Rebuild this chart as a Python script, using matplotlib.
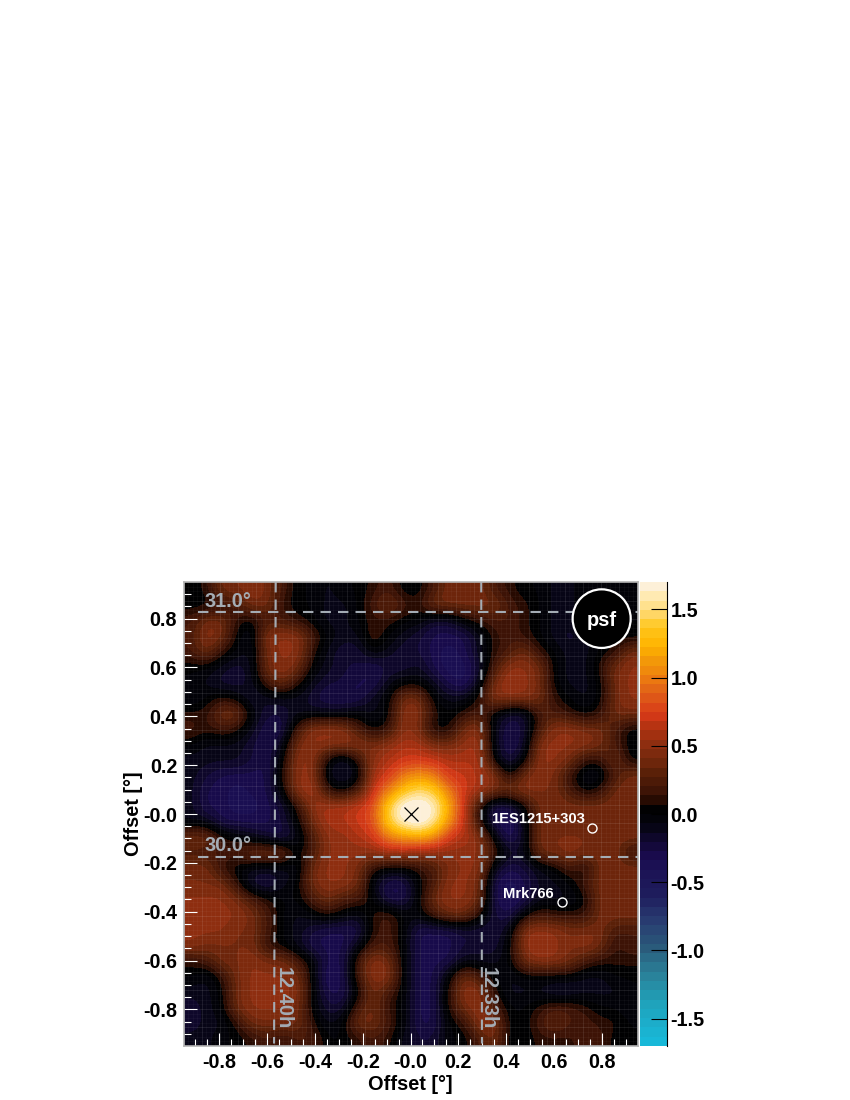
import numpy as np
import matplotlib
matplotlib.use('Agg')
import matplotlib.pyplot as plt
from matplotlib.colors import LinearSegmentedColormap, BoundaryNorm
from matplotlib.patches import Ellipse

plt.rcParams['font.family'] = ['Liberation Sans', 'DejaVu Sans']

# map values, in tenths, top row first
map_tenths = [
 [ 0, 1, 4, 4, 5, 4, 2, 0, 0,-1, 0, 0, 1, 2, 0, 0, 2, 4, 4, 4, 2, 1, 0, 0,-1,-1, 0, 0, 0, 0],
 [ 0, 0, 1, 2, 4, 4, 1, 0, 0,-1,-1, 0, 2, 4, 2, 1, 4, 4, 4, 4, 4, 2, 1, 0,-1,-1, 0, 0, 0, 0],
 [ 2, 4, 4, 1, 0, 2, 2, 1, 0,-1,-1, 0, 1, 1, 0, 0,-2,-2, 0, 1, 2, 2, 1, 0,-1,-1, 0, 0, 0, 0],
 [ 2, 5, 4, 0,-1, 5, 5, 5, 2, 0,-1,-1, 2, 0,-1,-2,-3,-3,-3,-1, 1, 2, 1, 0,-1,-2,-1, 0, 0, 0],
 [ 2, 4, 1, 0,-1, 4, 5, 5, 1,-1,-2,-2, 0,-1,-2,-2,-3,-4,-3,-1, 1, 2, 4, 1, 0,-1,-1, 0, 1, 4],
 [ 0, 0,-1,-2,-1, 4, 5, 4, 0,-1,-2,-2,-3,-2,-2,-1,-3,-4,-4,-2, 2, 5, 5, 4, 0,-1,-1, 1, 4, 5],
 [ 0,-1,-2,-2,-1, 2, 4, 1,-1,-2,-2,-3,-3,-1, 0, 0,-1,-3,-4,-1, 4, 6, 5, 4, 0,-1,-1, 0, 4, 5],
 [-1, 0, 1, 0,-2,-1,-1,-1,-2,-3,-3,-3,-1, 0, 4, 4, 0,-1,-1, 1, 5, 5, 5, 4, 1, 0,-1, 0, 4, 5],
 [ 1, 1, 4, 4, 0,-2,-2,-1,-1,-1,-1, 0,-1, 0, 5, 5, 1, 0, 1, 2, 0,-2,-2, 2, 2, 1, 0, 1, 4, 4],
 [ 2, 1, 2, 1,-1,-3,-3, 2, 5, 5, 5, 2, 0, 1, 5, 4, 0, 0, 4, 5,-1,-3,-2, 2, 5, 5, 4, 4, 2, 0],
 [ 0,-1,-1,-1,-2,-3,-1, 4, 5, 5, 5, 5, 4, 5, 6, 6, 4, 4, 5, 6,-1,-3,-2, 5, 5, 5, 5, 4, 2, 0],
 [-1,-1,-1,-1,-2,-3, 0, 5, 5, 0,-2, 1, 5, 6, 7, 7, 7, 6, 6, 6, 0,-3, 0, 5, 5, 4, 1, 1, 4, 0],
 [-1,-2,-3,-3,-3,-3, 1, 5, 5,-1,-2,-1, 6, 7,10,11,10, 7, 7, 6, 5, 0, 4, 5, 4, 1,-1,-1, 2, 4],
 [-1,-3,-3,-4,-3,-3, 0, 5, 6, 1, 0, 2, 7,10,13,15,14,10, 7, 6, 4, 4, 5, 4, 4, 2, 0, 1, 4, 4],
 [-1,-3,-3,-4,-4,-3,-2, 1, 5, 6, 6, 7, 8,14,18,18,17,12, 7, 1,-3,-3, 0, 4, 4, 4, 4, 4, 4, 4],
 [-1,-1,-3,-3,-3,-3,-2, 0, 4, 6, 6, 7, 8,14,17,18,16,11, 7, 1,-3,-4,-1, 4, 4, 4, 4, 4, 4, 4],
 [ 4, 4, 1, 0,-1,-2,-3,-1, 2, 5, 5, 6, 7,10,11,12,11, 7, 6, 5, 0,-4,-1, 4, 4, 4, 4, 4, 4, 4],
 [ 2, 2, 2, 2, 4, 4, 4, 0, 2, 5, 5, 5, 5, 6, 6, 5, 5, 5, 5, 5, 2,-1,-1, 4, 4, 5, 4, 4, 4, 1],
 [ 4, 4, 1, 0,-1,-1,-1,-1, 4, 5, 5, 4, 1, 0, 0, 1, 2, 4, 5, 5,-1,-3,-2,-1, 0, 2, 0, 4, 4, 4],
 [ 4, 4, 4, 1,-2,-3,-1, 0, 4, 5, 5, 4,-1,-3,-3, 0, 2, 5, 5, 4,-3,-4,-3,-1,-1, 0, 2, 4, 4, 4],
 [ 5, 5, 5, 4, 2, 1, 0, 0, 2, 4, 2, 2, 0,-3,-3, 0, 4, 5, 5, 4,-3,-4,-3,-1,-1,-1, 0, 4, 4, 4],
 [ 5, 5, 5, 5, 4, 2, 0,-1, 0, 1, 0,-1, 1, 2, 0, 0, 2, 4, 4, 1,-2,-3, 0, 2, 1, 1, 1, 4, 4, 4],
 [ 5, 5, 5, 4, 4, 2, 0,-1,-2,-3,-3,-3, 1, 2, 0,-3,-3,-3,-2,-2,-2,-1, 5, 5, 5, 4, 4, 4, 2, 2],
 [ 5, 4, 4, 4, 4, 1, 0,-1,-3,-3,-3,-1, 2, 2, 0,-3,-3,-3,-2,-2,-2, 0, 5, 6, 5, 4, 5, 4, 1, 2],
 [ 1, 2, 4, 4, 5, 4, 4, 2, 0,-3,-3, 2, 5, 4, 0,-3,-3,-3,-1,-1,-1, 0, 4, 5, 5, 4, 2, 1, 1, 1],
 [ 0,-1, 1, 4, 5, 5, 5, 4, 0,-4,-3, 2, 5, 5, 0,-3,-3, 0, 4, 2, 0,-1, 0, 0, 0, 0,-1,-1, 0, 0],
 [-1,-1, 0, 4, 5, 5, 5, 5, 0,-3,-3, 0, 4, 2, 0,-3,-3, 1, 5, 5, 1,-1,-1,-1,-2,-2,-1,-1,-1, 0],
 [-2,-1, 0, 4, 5, 5, 5, 4, 0,-2,-2, 2, 4, 1, 0,-3,-3, 1, 4, 5, 2, 0, 0, 1, 2, 2, 1, 0, 0,-1],
 [-2,-1,-1, 1, 4, 4, 4, 4, 1,-1, 0, 4, 4, 2, 0,-3,-3, 0, 1, 5, 5, 0, 0, 2, 4, 2, 2, 1, 1, 0],
 [-1,-1, 0, 0, 1, 2, 1, 2, 2, 0, 0, 1, 2, 1,-1,-2,-2, 0, 0, 2, 4, 0, 0, 1, 1, 1, 2, 2, 0, 0],
]

ticks_main = [-0.8, -0.6, -0.4, -0.2, 0.0, 0.2, 0.4, 0.6, 0.8]
ticks_main_labels = ['-0.8', '-0.6', '-0.4', '-0.2', '-0.0', '0.2', '0.4', '0.6', '0.8']
ticks_bar = [-1.5, -1.0, -0.5, 0.0, 0.5, 1.0, 1.5]
ticks_bar_labels = ['-1.5', '-1.0', '-0.5', '0.0', '0.5', '1.0', '1.5']

# colour bar colours, value then colour
bar_values = [-1.7, -1.4, -1.2, -1.0, -0.8, -0.6, -0.33, -0.2, -0.08, 0.05, 0.08, 0.15, 0.3, 0.5, 0.6, 0.75, 0.9, 1.0, 1.15, 1.25, 1.4, 1.5, 1.6, 1.7]
bar_colors = ['#18b8d8', '#20a0b8', '#2a8098', '#2a5a7a', '#283a70', '#1e1c5c', '#1a0c50', '#100830', '#04040c',
              '#000000', '#200800', '#3a1206', '#5a2008', '#8a2e10', '#a83010', '#d83a18', '#e06018', '#ec7a10',
              '#f49a08', '#ffb400', '#ffc820', '#ffd870', '#ffe8a8', '#fdf0d8']

lim = 0.95
line_gray = '#a4acb4'

# coordinate lines
ra_1240_x = [-0.564, -0.571]
ra_1233_x = [0.296, 0.299]
ra_y = [0.95, -0.94]
dec_x = [-0.89, 0.95]
dec_31_y = [0.826, 0.826]
dec_30_y = [-0.175, -0.175]

src_x = [0.758, 0.632]
src_y = [-0.057, -0.361]

grid = np.array(map_tenths) / 10.0
levels = np.linspace(-1.7, 1.7, 51)
pos = [(v + 1.7) / 3.4 for v in bar_values]
cmap = LinearSegmentedColormap.from_list('excess', list(zip(pos, bar_colors)), N=256)
norm = BoundaryNorm(levels, cmap.N)

W, H = 850.0, 1100.0
fig = plt.figure(figsize=(8.5, 11), dpi=100)
ax = fig.add_axes([183.5 / W, 1 - 1046 / H, 454 / W, 464 / H])

ax.imshow(grid, extent=[-lim, lim, -lim, lim], origin='upper', aspect='auto', cmap=cmap, norm=norm,
          interpolation='bicubic', interpolation_stage='data')

# the faint bin lines over the map
edges = np.linspace(-lim, lim, 101)
ax.vlines(edges, -lim, lim, color='white', lw=0.4, alpha=0.06)
ax.hlines(edges, -lim, lim, color='white', lw=0.4, alpha=0.06)
ax.vlines(edges[::4], -lim, lim, color='white', lw=0.5, alpha=0.09)
ax.hlines(edges[::4], -lim, lim, color='white', lw=0.5, alpha=0.09)

for xs, ys in [(ra_1240_x, ra_y), (ra_1233_x, ra_y), (dec_x, dec_31_y), (dec_x, dec_30_y)]:
    ax.plot(xs, ys, color=line_gray, lw=1.5, dashes=(5, 3.4))

ax.plot([0], [0], marker='x', color='black', ms=10, mew=0.9, ls='none')
ax.plot(src_x, src_y, marker='o', mfc='none', mec='white', ms=6.5, mew=1.0, ls='none')

ax.add_patch(Ellipse((0.80, 0.80), 0.243, 0.24, fc='black', ec='white', lw=1.6, zorder=5))
ax.text(0.80, 0.793, 'psf', color='white', fontsize=14.4, fontweight='bold', ha='center', va='center', zorder=6)

ax.text(-0.862, 0.87, '31.0°', color=line_gray, fontsize=14.4, fontweight='bold', ha='left', va='center')
ax.text(-0.862, -0.131, '30.0°', color=line_gray, fontsize=14.4, fontweight='bold', ha='left', va='center')
ax.text(-0.532, -0.625, '12.40h', color=line_gray, fontsize=14.4, fontweight='bold', rotation=-90, ha='center', va='top')
ax.text(0.326, -0.625, '12.33h', color=line_gray, fontsize=14.4, fontweight='bold', rotation=-90, ha='center', va='top')
ax.text(0.73, -0.02, '1ES1215+303', color='white', fontsize=10.6, fontweight='bold', ha='right', va='center')
ax.text(0.599, -0.328, 'Mrk766', color='white', fontsize=10.6, fontweight='bold', ha='right', va='center')

ax.set_xlim(-lim, lim)
ax.set_ylim(-lim, lim)
ax.set_xticks(ticks_main)
ax.set_xticklabels(ticks_main_labels, fontsize=14.2, fontweight='bold')
ax.set_yticks(ticks_main)
ax.set_yticklabels(ticks_main_labels, fontsize=14.2, fontweight='bold')
ax.set_xticks(np.arange(-0.9, 0.91, 0.05), minor=True)
ax.set_yticks(np.arange(-0.9, 0.91, 0.05), minor=True)
ax.tick_params(which='major', direction='in', length=9.5, width=0.8, color='white', pad=5)
ax.tick_params(which='minor', direction='in', length=5, width=0.8, color='white')
ax.tick_params(axis='y', which='major', pad=4.5)
for side in ax.spines:
    ax.spines[side].set_color('#b4b4b4')
    ax.spines[side].set_linewidth(1.2)

fig.text(410 / W, 1 - 1084 / H, 'Offset [°]', fontsize=14.4, fontweight='bold', ha='center', va='center')
fig.text(133.5 / W, 1 - 814 / H, 'Offset [°]', fontsize=14.4, fontweight='bold', rotation=90, ha='center', va='center')

# colour bar
cax = fig.add_axes([640 / W, 1 - 1046 / H, 26.5 / W, 464 / H])
centers = 0.5 * (levels[:-1] + levels[1:])
cax.pcolormesh([0, 1], levels, centers[:, None], cmap=cmap, norm=norm)
cax.set_xlim(0, 1)
cax.set_ylim(-1.7, 1.7)
cax.set_xticks([])
cax.yaxis.tick_right()
cax.set_yticks(ticks_bar)
cax.set_yticklabels(ticks_bar_labels, fontsize=14.2, fontweight='bold')
cax.tick_params(axis='y', direction='in', length=11.5, width=0.8, color='black', pad=3)
for side in ['top', 'left', 'bottom']:
    cax.spines[side].set_visible(False)
cax.spines['right'].set_linewidth(0.8)

fig.savefig('out.png', dpi=100)
